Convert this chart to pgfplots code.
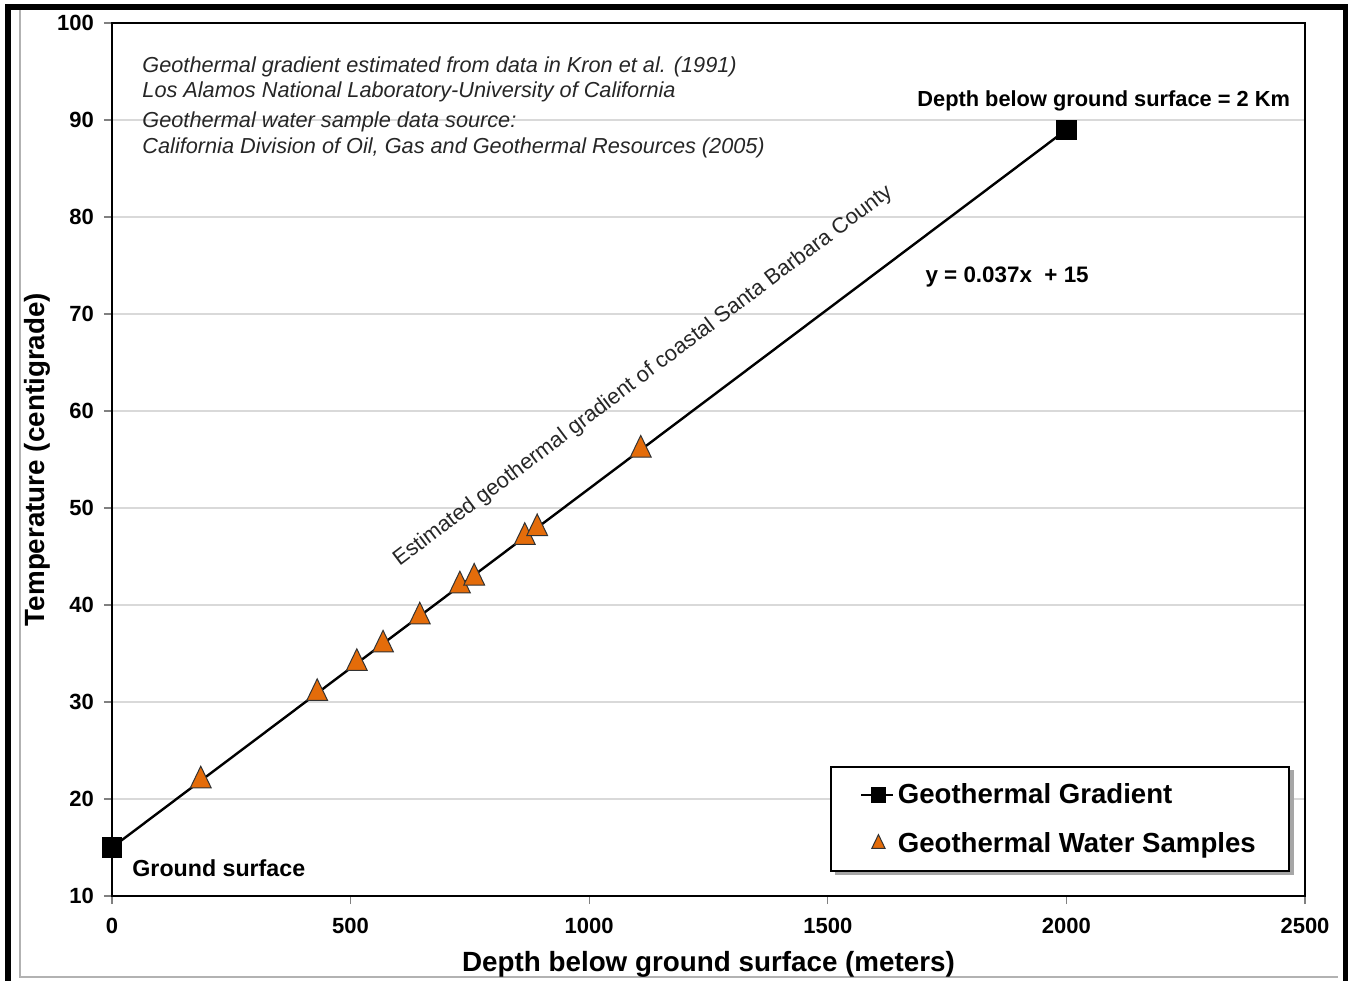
\documentclass[border=0pt]{standalone}
\usepackage{fontspec}
\setmainfont{Liberation Sans}
\usepackage{pgfplots}
\pgfplotsset{compat=1.18}
\definecolor{orng}{RGB}{228,108,10}
\definecolor{gridgray}{RGB}{217,217,217}
\begin{document}
\begin{tikzpicture}
\useasboundingbox (-56pt,-42pt) rectangle (618pt,448pt);
\draw[gray!60, line width=0.6pt] (-46pt,443pt) -- (-46pt,-40.5pt) -- (613pt,-40.5pt);
\draw[black, line width=3pt] (-52pt,-60pt) -- (-52pt,444.5pt) -- (617pt,444.5pt) -- (617pt,-60pt);
\begin{axis}[
 at={(0,0)}, anchor=south west,
 scale only axis, width=596.5pt, height=436.5pt,
 xmin=0, xmax=2500, ymin=10, ymax=100,
 xtick={0,500,...,2500}, ytick={10,20,...,100},
 ymajorgrids, grid style={gridgray, line width=0.75pt},
 axis line style={black, line width=1pt},
 tick align=outside, major tick length=4pt, tick style={gray, line width=0.6pt},
 xtick pos=bottom, ytick pos=left,
 ticklabel style={font=\fontsize{11}{12}\selectfont\bfseries},
 xticklabel style={yshift=-3.5pt},
 yticklabel style={xshift=-1.5pt},
 /pgf/number format/assume math mode=true,
 /pgf/number format/set thousands separator={},
 xlabel={Depth below ground surface (meters)},
 ylabel={Temperature (centigrade)},
 label style={font=\fontsize{13.9}{16}\selectfont\bfseries},
 xlabel style={at={([yshift=-34pt]axis description cs:0.5,0)}, anchor=center},
 ylabel style={at={([xshift=-37.5pt]axis description cs:0,0.5)}, anchor=center},
 clip=false,
 legend style={at={(0.9874,0.1489)}, anchor=north east, draw=black, line width=1.2pt, fill=white,
   font=\fontsize{13.8}{16}\selectfont\bfseries, inner xsep=14.5pt, inner ysep=6pt, row sep=9pt},
 legend cell align=left,
]
\fill[black!35] (rel axis cs:0.606,0.1443) rectangle (rel axis cs:0.9908,0.0241);
\addplot[black, line width=1.2pt, mark=square*, mark size=4.5pt, mark options={solid},
  legend image code/.code={\draw[black, line width=1.2pt] (0cm,0cm) -- (0.55cm,0cm); \fill[black] (0.3cm-3.3pt,-3.3pt) rectangle ++(6.6pt,6.6pt);}]
  coordinates {(0,15) (2000,89)};
\addlegendentry{Geothermal Gradient}
\addplot[only marks, mark=triangle*, mark size=6pt, mark options={fill=orng, draw=black!80, line width=0.5pt, yscale=1.2},
  legend image code/.code={\draw[black!80, fill=orng, line width=0.5pt] plot[mark=triangle*, mark size=3.8pt, only marks] coordinates {(0.3cm,0cm)};}]
  coordinates {
  (186,21.9) (430,30.9) (513,34.0) (568,35.9) (645,38.8)
  (729,42.0) (759,42.8) (865,47.0) (891,47.9) (1108,56.0)
  };
\addlegendentry{Geothermal Water Samples}
\node[inner sep=0pt, anchor=base west, font=\fontsize{10.85}{12}\selectfont\itshape, text=black!85] at (axis cs:63,94.95) {Geothermal gradient estimated from data in Kron et al. (1991)};
\node[inner sep=0pt, anchor=base west, font=\fontsize{10.85}{12}\selectfont\itshape, text=black!85] at (axis cs:63,92.37) {Los Alamos National Laboratory-University of California};
\node[inner sep=0pt, anchor=base west, font=\fontsize{10.85}{12}\selectfont\itshape, text=black!85] at (axis cs:63,89.18) {Geothermal water sample data source:};
\node[inner sep=0pt, anchor=base west, font=\fontsize{10.85}{12}\selectfont\itshape, text=black!85] at (axis cs:63,86.5) {California Division of Oil, Gas and Geothermal Resources (2005)};
\node[inner sep=0pt, anchor=base west, font=\fontsize{10.9}{13}\selectfont\bfseries] at (axis cs:1687,91.44) {Depth below ground surface = 2 Km};
\node[inner sep=0pt, anchor=base west, font=\fontsize{11.2}{13}\selectfont\bfseries] at (axis cs:1704,73.2) {y = 0.037x \ + 15};
\node[inner sep=0pt, anchor=base west, font=\fontsize{11.6}{13}\selectfont\bfseries] at (axis cs:42,11.96) {Ground surface};
\node[inner sep=0pt, anchor=center, rotate=37, font=\fontsize{10.9}{12}\selectfont, text=black!85] at (axis cs:1113,63.6) {Estimated geothermal gradient of coastal Santa Barbara County};
\end{axis}
\end{tikzpicture}
\end{document}
